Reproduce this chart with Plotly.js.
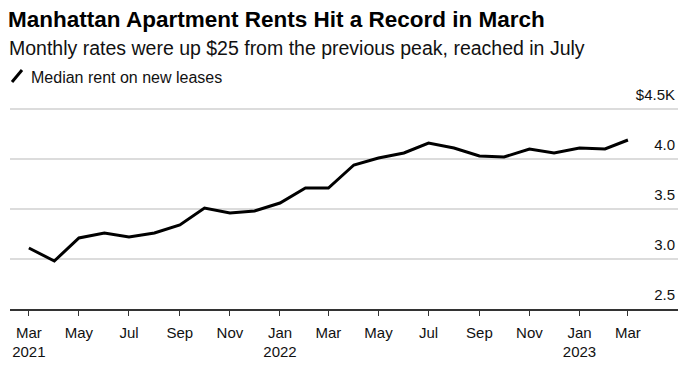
<!DOCTYPE html>
<html>
<head>
<meta charset="utf-8">
<script src="https://cdn.plot.ly/plotly-3.0.1.min.js"></script>
<style>html,body{margin:0;padding:0;background:#fff;}#chart{width:700px;height:367px;}</style>
</head>
<body>
<div id="chart"></div>
<script>
const months = ['2021-03-01','2021-04-01','2021-05-01','2021-06-01','2021-07-01','2021-08-01','2021-09-01','2021-10-01','2021-11-01','2021-12-01',
  '2022-01-01','2022-02-01','2022-03-01','2022-04-01','2022-05-01','2022-06-01','2022-07-01','2022-08-01','2022-09-01','2022-10-01','2022-11-01','2022-12-01',
  '2023-01-01','2023-02-01','2023-03-01'];
const medianRent = [3.11,2.98,3.21,3.26,3.22,3.26,3.34,3.51,3.46,3.48,
  3.56,3.71,3.71,3.94,4.01,4.06,4.16,4.11,4.03,4.02,4.10,4.06,
  4.11,4.10,4.19];
const xTickVals = ['2021-03-01','2021-05-01','2021-07-01','2021-09-01','2021-11-01','2022-01-01','2022-03-01','2022-05-01','2022-07-01','2022-09-01','2022-11-01','2023-01-01','2023-03-01'];
const xTickText = ['Mar<br>2021','May','Jul','Sep','Nov','Jan<br>2022','Mar','May','Jul','Sep','Nov','Jan<br>2023','Mar'];
const yTickVals = [2.5,3.0,3.5,4.0,4.5];
const yTickText = ['2.5','3.0','3.5','4.0','$4.5K'];
const seriesName = 'Median rent on new leases';

const font = 'Liberation Sans, Arial, sans-serif';
const T = 79, PH = 230; // plot top and height in px
const py = px => 1 + (T - px) / PH; // paper y from pixel y
const L = 10, PW = 668;
const pxx = px => (px - L) / PW;

Plotly.newPlot('chart', [{
  x: months, y: medianRent, type: 'scatter', mode: 'lines', name: seriesName,
  line: {color: '#000000', width: 3}, hoverinfo: 'skip', showlegend: false
}], {
  width: 700, height: 367,
  margin: {l: L, r: 700 - L - PW, t: T, b: 367 - T - PH},
  paper_bgcolor: '#fff', plot_bgcolor: '#fff',
  font: {family: font, color: '#222', size: 15},
  title: {
    text: '<b>Manhattan Apartment Rents Hit a Record in March</b>',
    font: {family: font, size: 22.5, color: '#000'},
    x: 8/700, xanchor: 'left', xref: 'container',
    y: 1 - 19/367, yanchor: 'middle', yref: 'container'
  },
  xaxis: {
    type: 'date', range: ['2021-02-06', '2023-05-01'],
    tickmode: 'array', tickvals: xTickVals, ticktext: xTickText,
    ticks: 'outside', ticklen: 5, tickwidth: 1, tickcolor: '#333',
    ticklabelstandoff: 4,
    showline: true, linecolor: '#333', linewidth: 1.5,
    showgrid: false, zeroline: false,
    tickfont: {family: font, size: 15, color: '#111'}
  },
  yaxis: {
    side: 'right', range: [2.5, 4.8],
    tickmode: 'array', tickvals: yTickVals, ticktext: yTickText,
    ticklabelposition: 'inside top', ticklabelshift: -4, ticks: '',
    showgrid: true, gridcolor: '#dcdcdc', gridwidth: 1.3,
    zeroline: false, showline: false,
    tickfont: {family: font, size: 15, color: '#111'}
  },
  annotations: [
    {text: 'Monthly rates were up $25 from the previous peak, reached in July', xref: 'paper', yref: 'paper',
     x: pxx(7), y: py(48), xanchor: 'left', yanchor: 'middle', showarrow: false,
     font: {family: font, size: 19.5, color: '#111'}},
    {text: seriesName, xref: 'paper', yref: 'paper',
     x: pxx(29), y: py(77), xanchor: 'left', yanchor: 'middle', showarrow: false,
     font: {family: font, size: 16, color: '#111'}}
  ],
  shapes: [
    {type: 'line', xref: 'paper', yref: 'paper', x0: pxx(12), y0: py(82), x1: pxx(22), y1: py(70),
     line: {color: '#000', width: 3}}
  ]
}, {displayModeBar: false, staticPlot: true});
</script>
</body>
</html>
